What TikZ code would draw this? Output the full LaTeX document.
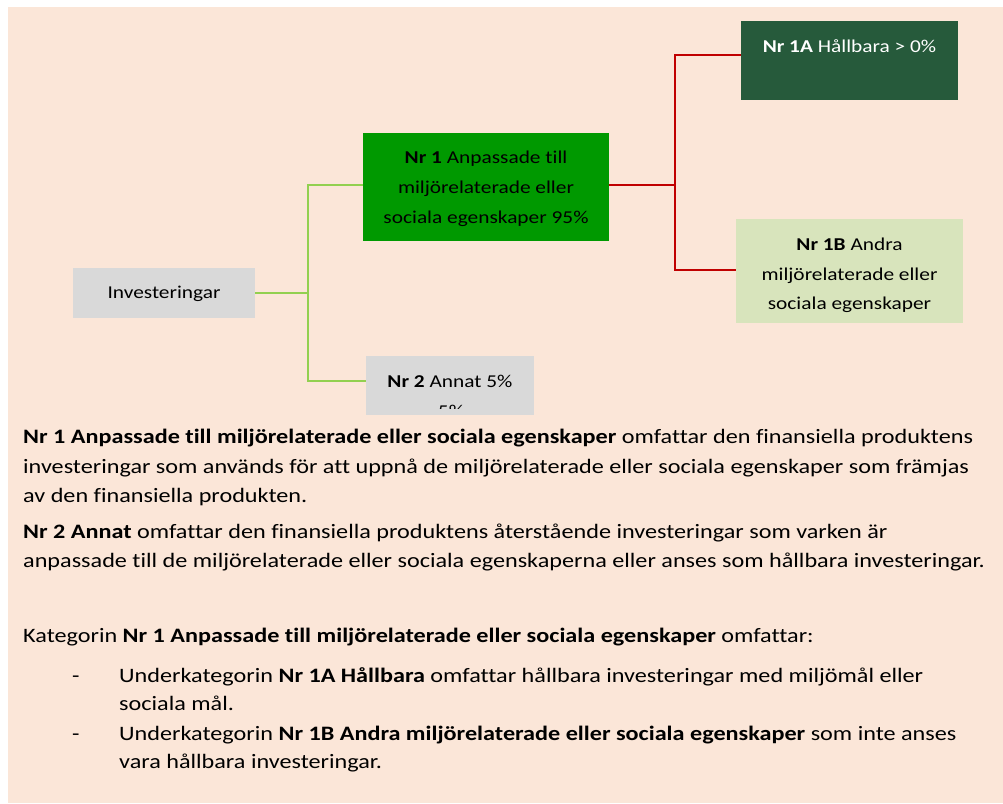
\documentclass[tikz,border=0pt]{standalone}
\usepackage{fontspec}
\setmainfont{Carlito}[FakeStretch=1.18, Ligatures=NoCommon]
\definecolor{peach}{HTML}{FBE6D8}
\definecolor{boxgray}{HTML}{D9D9D9}
\definecolor{midgreen}{HTML}{009900}
\definecolor{darkgreen}{HTML}{265A3B}
\definecolor{palegreen}{HTML}{D8E4BC}
\definecolor{linegreen}{HTML}{92D050}
\definecolor{linered}{HTML}{C00000}
\tikzset{
  box/.style={draw=none, inner sep=0pt, rectangle},
  txt/.style={anchor=base, inner sep=0pt, font=\fontsize{18.1}{29}\selectfont},
  para/.style={anchor=base west, inner sep=0pt, font=\fontsize{20.5}{29}\selectfont},
  gline/.style={draw=linegreen, line width=2pt},
  rline/.style={draw=linered, line width=2pt},
}
\begin{document}
\begin{tikzpicture}[x=1pt,y=-1pt]
\useasboundingbox (0,0) rectangle (1003,803);
\fill[white] (0,0) rectangle (1003,803);
\fill[peach] (8,7) rectangle (1003,803);

% boxes
\node[box, fill=boxgray, minimum width=182pt, minimum height=50pt] (inv) at (164,293) {};
\node[box, fill=midgreen, minimum width=246pt, minimum height=108pt] (n1) at (486,187) {};
\node[box, fill=darkgreen, minimum width=217pt, minimum height=79pt] (n1a) at (849.5,60.5) {};
\node[box, fill=palegreen, minimum width=227pt, minimum height=104pt] (n1b) at (849.5,271) {};
\node[box, fill=boxgray, minimum width=168pt, minimum height=59pt] (n2) at (450,385.5) {};

% box texts
\node[txt] at (164,298) {Investeringar};
\node[txt] at (486,163) {\textbf{Nr 1} Anpassade till};
\node[txt] at (486,193) {miljörelaterade eller};
\node[txt] at (486,223) {sociala egenskaper 95\%};
\node[txt, text=white] at (849.5,52) {\textbf{Nr 1A} Hållbara > 0\%};
\node[txt] at (849.5,250) {\textbf{Nr 1B} Andra};
\node[txt] at (849.5,280) {miljörelaterade eller};
\node[txt] at (849.5,309) {sociala egenskaper};
\node[txt] at (450,387) {\textbf{Nr 2} Annat 5\%};
\begin{scope}
\clip (366,356) rectangle (534,408);
\node[txt] at (451,417) {5\%};
\end{scope}

% connectors
\coordinate (gj) at (308,293);
\coordinate (rj) at (675,185);
\draw[gline] (inv.east) -- (gj);
\draw[gline] ([yshift=2pt]n1.west) -| (gj) |- ([yshift=5pt]n2.west);
\draw[rline] ([yshift=2pt]n1.east) -- (rj);
\draw[rline] ([yshift=5.5pt]n1a.west) -| (rj) |- ([yshift=1pt]n1b.west);

% text below
\node[para] at (23,443) {\textbf{Nr 1 Anpassade till miljörelaterade eller sociala egenskaper} omfattar den finansiella produktens};
\node[para] at (23,473) {investeringar som används för att uppnå de miljörelaterade eller sociala egenskaper som främjas};
\node[para] at (23,502) {av den finansiella produkten.};
\node[para] at (23,538) {\textbf{Nr 2 Annat} omfattar den finansiella produktens återstående investeringar som varken är};
\node[para] at (23,567) {anpassade till de miljörelaterade eller sociala egenskaperna eller anses som hållbara investeringar.};
\node[para] at (23,642) {Kategorin \textbf{Nr 1 Anpassade till miljörelaterade eller sociala egenskaper} omfattar:};
\node[para] at (72,682) {-};
\node[para] at (119,682) {Underkategorin \textbf{Nr 1A Hållbara} omfattar hållbara investeringar med miljömål eller};
\node[para] at (119,710) {sociala mål.};
\node[para] at (72,740) {-};
\node[para] at (119,740) {Underkategorin \textbf{Nr 1B Andra miljörelaterade eller sociala egenskaper} som inte anses};
\node[para] at (119,768) {vara hållbara investeringar.};
\end{tikzpicture}
\end{document}
